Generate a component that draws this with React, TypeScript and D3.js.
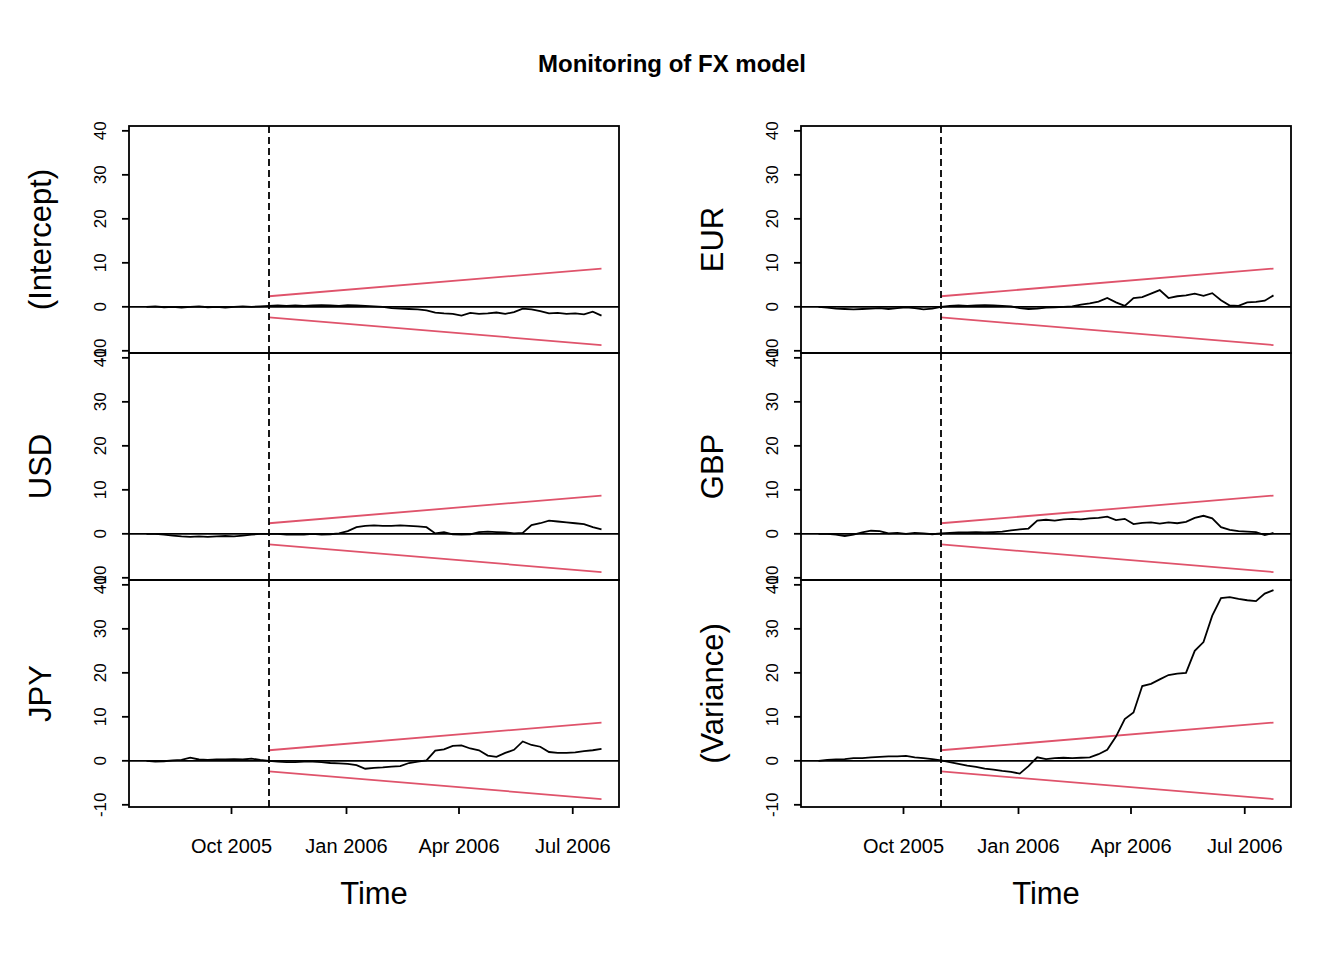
import { useEffect, useRef } from 'react';
import * as d3 from 'd3';

// weekly observations, starting 2005-07-25
const startDate = new Date(2005, 6, 25);
const monitorStart = new Date(2005, 9, 31);
const boundaryValues = [2.4, 8.7];

const panelNames = ['(Intercept)', 'USD', 'JPY', 'EUR', 'GBP', '(Variance)'];

const intercept = [0, 0.1, -0.1, 0, -0.2, 0, 0.1, -0.1, 0, -0.2, 0, 0.1, 0, 0.1, 0.2,
  0.3, 0.2, 0.3, 0.2, 0.3, 0.4, 0.3, 0.2, 0.4, 0.3, 0.2, 0.1, 0, -0.3, -0.4, -0.5, -0.6, -0.8, -1.3, -1.5,
  -1.6, -2.0, -1.4, -1.6, -1.5, -1.3, -1.6, -1.2, -0.4, -0.6, -1.0, -1.5, -1.4, -1.6, -1.5, -1.7, -1.1, -2.0];
const usd = [0, 0, -0.2, -0.4, -0.6, -0.7, -0.6, -0.7, -0.6, -0.5, -0.6, -0.4, -0.2, 0, 0,
  0, -0.2, -0.1, -0.2, 0, -0.2, -0.1, 0.1, 0.6, 1.5, 1.8, 1.9, 1.8, 1.8, 1.9, 1.8, 1.7, 1.5, 0.1, 0.4,
  -0.1, -0.2, -0.1, 0.4, 0.5, 0.4, 0.3, 0.1, 0.2, 2.0, 2.4, 3.0, 2.8, 2.6, 2.4, 2.2, 1.5, 1.0];
const jpy = [0, -0.2, -0.1, 0.1, 0.2, 0.7, 0.3, 0.2, 0.3, 0.3, 0.4, 0.3, 0.5, 0.2, 0,
  -0.2, -0.3, -0.3, -0.2, -0.2, -0.3, -0.5, -0.6, -0.7, -1.0, -1.8, -1.6, -1.5, -1.3, -1.2, -0.5, -0.2, 0.1, 2.3, 2.6,
  3.4, 3.5, 2.8, 2.4, 1.2, 0.9, 1.8, 2.5, 4.4, 3.6, 3.2, 2.0, 1.8, 1.8, 1.9, 2.2, 2.4, 2.7];
const eur = [0, -0.2, -0.4, -0.5, -0.6, -0.5, -0.4, -0.3, -0.5, -0.3, -0.1, -0.3, -0.6, -0.4, 0,
  0.2, 0.3, 0.2, 0.3, 0.4, 0.3, 0.2, 0.1, -0.3, -0.5, -0.4, -0.2, -0.1, 0, 0.1, 0.5, 0.8, 1.2, 2.0, 1.0,
  0.2, 2.0, 2.2, 3.0, 3.8, 2.0, 2.4, 2.6, 3.0, 2.5, 3.1, 1.5, 0.3, 0.2, 1.0, 1.1, 1.4, 2.6];
const gbp = [0, 0, -0.2, -0.5, -0.2, 0.3, 0.7, 0.6, 0.1, 0.2, 0, 0.2, 0.1, -0.1, 0.1,
  0.2, 0.3, 0.3, 0.4, 0.3, 0.4, 0.5, 0.8, 1.0, 1.2, 3.0, 3.2, 3.0, 3.3, 3.4, 3.3, 3.5, 3.6, 3.9, 3.1,
  3.4, 2.2, 2.5, 2.6, 2.3, 2.6, 2.4, 2.7, 3.6, 4.1, 3.5, 1.5, 0.9, 0.6, 0.5, 0.4, -0.3, 0.2];
const variance = [0, 0.2, 0.3, 0.4, 0.6, 0.6, 0.8, 0.9, 1.0, 1.0, 1.1, 0.8, 0.6, 0.4, 0.1,
  -0.3, -0.7, -1.1, -1.4, -1.8, -2.0, -2.3, -2.5, -2.9, -1.2, 0.8, 0.4, 0.6, 0.7, 0.6, 0.7, 0.8, 1.5, 2.5, 5.5,
  9.5, 11, 17, 17.5, 18.5, 19.5, 19.8, 20, 25, 27, 33, 37, 37.2, 36.8, 36.5, 36.3, 38, 38.8];

const seriesList = [intercept, usd, jpy, eur, gbp, variance];
const yTicks = [-10, 0, 10, 20, 30, 40];
const xTicks = [new Date(2005, 9, 1), new Date(2006, 0, 1), new Date(2006, 3, 1), new Date(2006, 6, 1)];

const FONT = '"Liberation Sans", Arial, Helvetica, sans-serif';
const RED = '#DF536B';

export default function App() {
  const svgRef = useRef<SVGSVGElement>(null);

  useEffect(() => {
    const svg = d3.select(svgRef.current);
    svg.selectAll('*').remove();

    svg.append('text')
      .attr('x', 672).attr('y', 72)
      .attr('text-anchor', 'middle')
      .style('font-family', FONT).style('font-size', '24px').style('font-weight', 'bold')
      .text('Monitoring of FX model');

    const colLeft = [129, 801];
    const rowTop = [126, 353, 580];
    const panelW = 490;
    const panelH = 227;
    const dates = variance.map((_, i) => d3.timeDay.offset(startDate, i * 7));
    const endDate = dates[dates.length - 1];

    seriesList.forEach((values, k) => {
      const col = Math.floor(k / 3);
      const row = k % 3;
      const x0 = colLeft[col];
      const y0 = rowTop[row];

      const x = d3.scaleTime()
        .domain([new Date(2005, 6, 11), new Date(2006, 7, 7)])
        .range([x0, x0 + panelW]);
      const y = d3.scaleLinear()
        .domain([-10.5, 41.1])
        .range([y0 + panelH, y0]);

      const g = svg.append('g');

      // y axis
      yTicks.forEach(t => {
        g.append('line')
          .attr('x1', x0 - 7).attr('x2', x0)
          .attr('y1', y(t)).attr('y2', y(t))
          .attr('stroke', 'black').attr('stroke-width', 1.8);
        g.append('text')
          .attr('transform', `translate(${x0 - 23},${y(t)}) rotate(-90)`)
          .attr('text-anchor', 'middle')
          .style('font-family', FONT).style('font-size', '17px')
          .text(t);
      });

      g.append('text')
        .attr('transform', `translate(${x0 - 78},${y0 + panelH / 2}) rotate(-90)`)
        .attr('text-anchor', 'middle')
        .style('font-family', FONT).style('font-size', '31px')
        .text(panelNames[k]);

      // zero line
      g.append('line')
        .attr('x1', x0).attr('x2', x0 + panelW)
        .attr('y1', y(0)).attr('y2', y(0))
        .attr('stroke', 'black').attr('stroke-width', 1.8);

      // boundaries
      [1, -1].forEach(s => {
        g.append('line')
          .attr('x1', x(monitorStart)).attr('x2', x(endDate))
          .attr('y1', y(s * boundaryValues[0])).attr('y2', y(s * boundaryValues[1]))
          .attr('stroke', RED).attr('stroke-width', 1.8);
      });

      // process
      const line = d3.line<number>()
        .x((_, i) => x(dates[i]))
        .y(d => y(d));
      g.append('path')
        .datum(values)
        .attr('d', line)
        .attr('fill', 'none')
        .attr('stroke', 'black').attr('stroke-width', 1.8);

      // start of monitoring
      g.append('line')
        .attr('x1', x(monitorStart)).attr('x2', x(monitorStart))
        .attr('y1', y0).attr('y2', y0 + panelH)
        .attr('stroke', 'black').attr('stroke-width', 1.8)
        .attr('stroke-dasharray', '7,4');

      g.append('rect')
        .attr('x', x0).attr('y', y0)
        .attr('width', panelW).attr('height', panelH)
        .attr('fill', 'none').attr('stroke', 'black').attr('stroke-width', 1.8);

      if (row === 2) {
        const yb = y0 + panelH;
        xTicks.forEach(t => {
          g.append('line')
            .attr('x1', x(t)).attr('x2', x(t))
            .attr('y1', yb).attr('y2', yb + 7)
            .attr('stroke', 'black').attr('stroke-width', 1.8);
          g.append('text')
            .attr('x', x(t)).attr('y', yb + 46)
            .attr('text-anchor', 'middle')
            .style('font-family', FONT).style('font-size', '20px')
            .text(d3.timeFormat('%b %Y')(t));
        });
        g.append('text')
          .attr('x', x0 + panelW / 2).attr('y', yb + 97)
          .attr('text-anchor', 'middle')
          .style('font-family', FONT).style('font-size', '31px')
          .text('Time');
      }
    });
  }, []);

  return (
    <svg
      ref={svgRef}
      width={1344}
      height={960}
      style={{ position: 'absolute', left: 0, top: 0, background: 'white' }}
    />
  );
}
